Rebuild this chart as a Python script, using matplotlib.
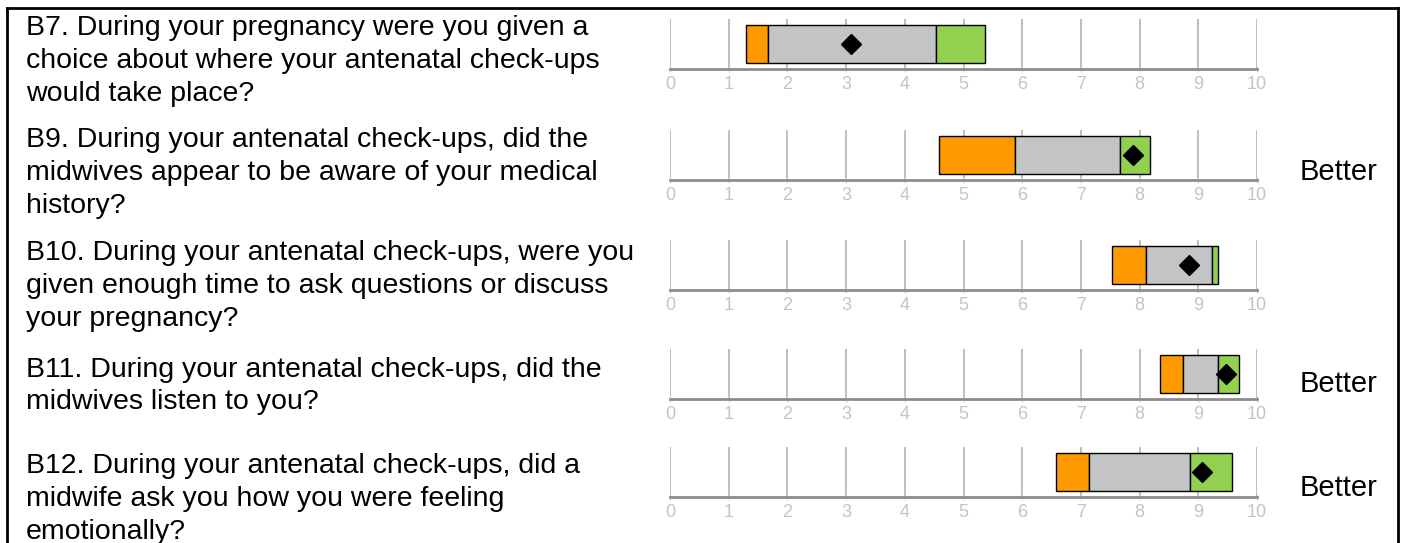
import matplotlib.pyplot as plt
from matplotlib.lines import Line2D

# datos
questions = [
    "B7. During your pregnancy were you given a\nchoice about where your antenatal check-ups\nwould take place?",
    "B9. During your antenatal check-ups, did the\nmidwives appear to be aware of your medical\nhistory?",
    "B10. During your antenatal check-ups, were you\ngiven enough time to ask questions or discuss\nyour pregnancy?",
    "B11. During your antenatal check-ups, did the\nmidwives listen to you?",
    "B12. During your antenatal check-ups, did a\nmidwife ask you how you were feeling\nemotionally?",
]
orange_start = [1.29, 4.59, 7.53, 8.34, 6.57]
grey_start = [1.67, 5.88, 8.11, 8.74, 7.13]
green_start = [4.53, 7.67, 9.23, 9.34, 8.86]
green_end = [5.36, 8.17, 9.33, 9.70, 9.57]
score = [3.09, 7.88, 8.85, 9.47, 9.06]
verdict = ["", "Better", "", "Better", "Better"]
ticks = list(range(11))

W, H = 1401, 543
plt.rcParams['font.family'] = ['Liberation Sans', 'DejaVu Sans']
fig = plt.figure(figsize=(W / 100, H / 100), dpi=100)

axis_y = [69, 180, 290, 399, 497]      # posicion (px) de la linea base de cada fila
text_y = [61, 173, 286, 386, 499]
better_y = [172, 172, 384, 384, 488]

for i in range(len(questions)):
    ax = fig.add_axes([670 / W, 1 - axis_y[i] / H, 587 / W, 50 / H])
    ax.set_xlim(0, 10)
    ax.set_ylim(0, 1)
    for s in ax.spines.values():
        s.set_visible(False)
    ax.vlines(ticks, 0, 1, color="#b3b3b3", lw=1.2, zorder=1)
    ax.axhline(0, color="#8c8c8c", lw=2, zorder=2, clip_on=False)
    ax.set_yticks([])
    ax.set_xticks(ticks)
    ax.tick_params(axis="x", length=4, direction="inout", color="#d0d0d0",
                   labelcolor="#c4c4c4", labelsize=13, pad=3)
    # barras: naranja, gris, verde
    ax.barh(0.5, grey_start[i] - orange_start[i], left=orange_start[i], height=0.76,
            color="#ff9900", edgecolor="black", lw=1, zorder=3)
    ax.barh(0.5, green_start[i] - grey_start[i], left=grey_start[i], height=0.76,
            color="#c3c4c6", edgecolor="black", lw=1, zorder=3)
    ax.barh(0.5, green_end[i] - green_start[i], left=green_start[i], height=0.76,
            color="#92d050", edgecolor="black", lw=1, zorder=3)
    ax.plot(score[i], 0.5, "D", color="black", ms=10, zorder=4)

    fig.text(26 / W, 1 - text_y[i] / H, questions[i], fontsize=20.5, va="center",
             ha="left", linespacing=1.33)
    if verdict[i]:
        fig.text(1300 / W, 1 - better_y[i] / H, verdict[i], fontsize=21, va="center", ha="left")

# marco
lw = 2.0
fig.add_artist(Line2D([7 / W, 1398 / W], [1 - 8 / H, 1 - 8 / H], color="black", lw=lw))
fig.add_artist(Line2D([7 / W, 7 / W], [0, 1 - 8 / H], color="black", lw=lw))
fig.add_artist(Line2D([1398 / W, 1398 / W], [0, 1 - 8 / H], color="black", lw=lw))

fig.savefig("out.png", dpi=100)
